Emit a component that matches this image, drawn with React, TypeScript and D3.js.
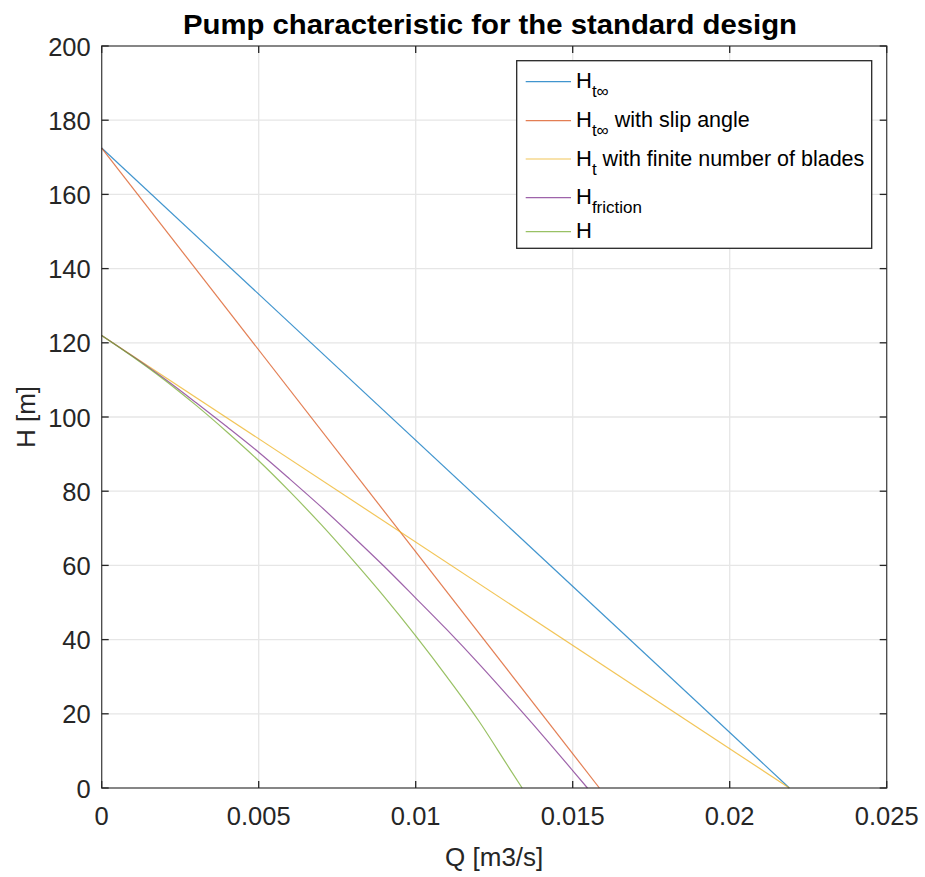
import React from 'react';
import * as d3 from 'd3';

// flow rate Q [m3/s] and head H [m]
const qLinear = [0, 0.0219];
const hTInf = [172.5, 0];
const qSlip = [0, 0.01585];
const hTInfSlip = [172.5, 0];
const hTFinite = [122, 0];

const qFriction = [0, 0.001, 0.002, 0.003, 0.004, 0.005, 0.006, 0.007, 0.008, 0.009, 0.01, 0.011, 0.012, 0.013, 0.014, 0.015, 0.01547];
const hFriction = [122, 116.3, 110.3, 103.9, 97.3, 90.5, 83.2, 75.7, 67.8, 59.7, 51.2, 42.6, 33.6, 24.2, 14.6, 4.7, 0];

const qH = [0, 0.001, 0.002, 0.003, 0.004, 0.005, 0.006, 0.007, 0.008, 0.009, 0.01, 0.011, 0.012, 0.013, 0.01339];
const hH = [122, 116.2, 110.0, 103.2, 95.9, 88.2, 79.8, 70.9, 61.4, 51.5, 41.0, 29.9, 18.2, 5.1, 0];

const xTicks = [0, 0.005, 0.01, 0.015, 0.02, 0.025];
const xTickLabels = ['0', '0.005', '0.01', '0.015', '0.02', '0.025'];
const yTicks = [0, 20, 40, 60, 80, 100, 120, 140, 160, 180, 200];

const series = [
  { q: qLinear, h: hTInf, color: '#0072BD', main: 'H', sub: 't\u221E', rest: '' },
  { q: qSlip, h: hTInfSlip, color: '#D95319', main: 'H', sub: 't\u221E', rest: ' with slip angle' },
  { q: qLinear, h: hTFinite, color: '#EDB120', main: 'H', sub: 't', rest: ' with finite number of blades' },
  { q: qFriction, h: hFriction, color: '#7E2F8E', main: 'H', sub: 'friction', rest: '' },
  { q: qH, h: hH, color: '#77AC30', main: 'H', sub: '', rest: '' },
];

const font = '"Liberation Sans", Arial, sans-serif';
const axisColor = '#262626';

const App = () => {
  const svgWidth = 925;
  const svgHeight = 877;
  const margin = { left: 101.7, right: 925 - 886.7, top: 46, bottom: 877 - 788 };
  const width = svgWidth - margin.left - margin.right;
  const height = svgHeight - margin.top - margin.bottom;

  const x = d3.scaleLinear().domain([0, 0.025]).range([0, width]);
  const y = d3.scaleLinear().domain([0, 200]).range([height, 0]);

  const line = (q: number[], h: number[]) =>
    d3.line<number>().x((d, i) => x(q[i])).y(d => y(d)).curve(d3.curveMonotoneX)(h) || '';

  const tickLen = 7;
  const legendRows = [81.7, 120.7, 159, 197.7, 231.7];

  return (
    <div style={{ position: 'absolute', left: 0, top: 0 }}>
      <svg width={svgWidth} height={svgHeight} fontFamily={font} style={{ display: 'block', background: '#fff' }}>
        <text x={490} y={34} textAnchor="middle" fontWeight="bold" fontSize={28} fill="#000"
          textLength={614} lengthAdjust="spacingAndGlyphs">
          Pump characteristic for the standard design
        </text>

        <g transform={`translate(${margin.left},${margin.top})`}>
          {/* grid */}
          {xTicks.slice(1, -1).map((t, i) => (
            <line key={'gx' + i} x1={x(t)} x2={x(t)} y1={0} y2={height} stroke="#e6e6e6" strokeWidth={1.3} />
          ))}
          {yTicks.slice(1, -1).map((t, i) => (
            <line key={'gy' + i} x1={0} x2={width} y1={y(t)} y2={y(t)} stroke="#e6e6e6" strokeWidth={1.3} />
          ))}

          {/* curves */}
          {series.map((s, i) => (
            <path key={'s' + i} d={line(s.q, s.h)} fill="none" stroke={s.color} strokeWidth={1.2} strokeOpacity={0.75} />
          ))}

          {/* box + ticks */}
          <rect x={0} y={0} width={width} height={height} fill="none" stroke={axisColor} strokeWidth={1.3} opacity={0.85} />
          {xTicks.map((t, i) => (
            <g key={'xt' + i}>
              <line x1={x(t)} x2={x(t)} y1={height} y2={height - tickLen} stroke={axisColor} strokeWidth={1.3} />
              <line x1={x(t)} x2={x(t)} y1={0} y2={tickLen} stroke={axisColor} strokeWidth={1.3} />
              <text x={x(t)} y={height + 37} textAnchor="middle" fontSize={25.5} fill={axisColor}>{xTickLabels[i]}</text>
            </g>
          ))}
          {yTicks.map((t, i) => (
            <g key={'yt' + i}>
              <line x1={0} x2={tickLen} y1={y(t)} y2={y(t)} stroke={axisColor} strokeWidth={1.3} />
              <line x1={width} x2={width - tickLen} y1={y(t)} y2={y(t)} stroke={axisColor} strokeWidth={1.3} />
              <text x={-11} y={y(t) + 9.5} textAnchor="end" fontSize={25.5} fill={axisColor}>{t}</text>
            </g>
          ))}
        </g>

        <text x={margin.left + width / 2} y={866} textAnchor="middle" fontSize={26} fill={axisColor}>Q [m3/s]</text>
        <text transform={`translate(35,${margin.top + height / 2}) rotate(-90)`} textAnchor="middle" fontSize={26} fill={axisColor}>H [m]</text>

        {/* legend */}
        <rect x={516.7} y={60.7} width={355} height={187.6} fill="#fff" stroke={axisColor} strokeWidth={1.3} />
        {series.map((s, i) => (
          <g key={'lg' + i}>
            <line x1={525.7} x2={571} y1={legendRows[i]} y2={legendRows[i]} stroke={s.color} strokeWidth={1.2} strokeOpacity={0.75} />
            <text x={576} y={legendRows[i] + 6.7} fontSize={22} fill="#000">
              {s.main}
              {s.sub && <tspan fontSize={17} dy={9}>{s.sub}</tspan>}
              {s.rest && <tspan fontSize={21.5} dy={-9}>{s.rest}</tspan>}
            </text>
          </g>
        ))}
      </svg>
    </div>
  );
};

export default App;
